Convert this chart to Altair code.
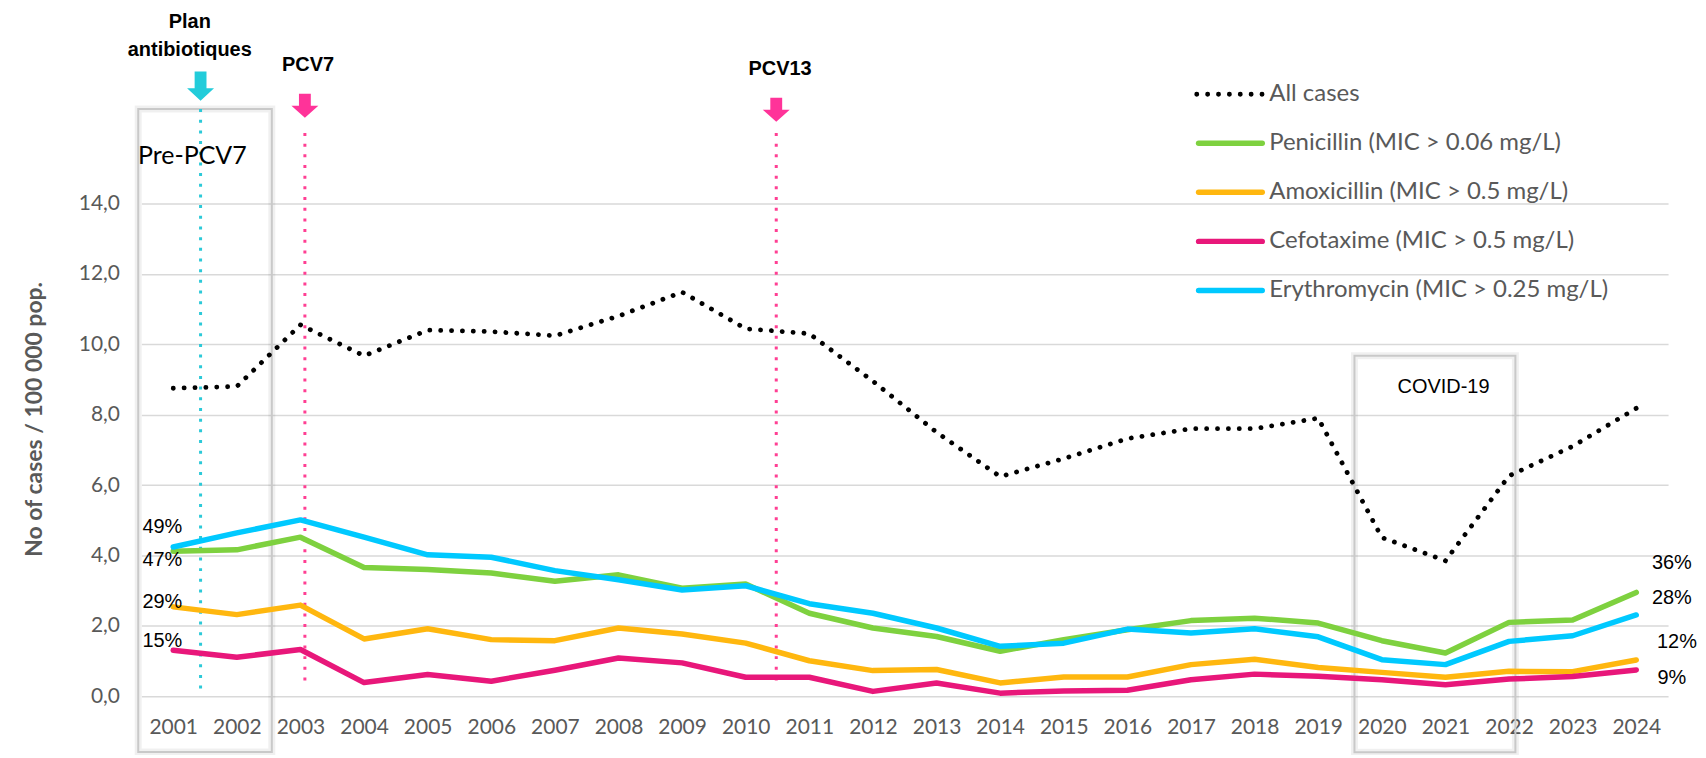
import altair as alt
import pandas as pd

years = list(range(2001, 2025))
all_cases = [8.75, 8.80, 10.55, 9.67, 10.40, 10.36, 10.24, 10.80, 11.48, 10.44, 10.30, 8.95,
             7.50, 6.24, 6.75, 7.32, 7.60, 7.60, 7.90, 4.51, 3.85, 6.26, 7.10, 8.18]
penicillin = [4.12, 4.16, 4.52, 3.66, 3.60, 3.50, 3.27, 3.45, 3.07, 3.19, 2.36, 1.94,
              1.70, 1.28, 1.61, 1.89, 2.15, 2.22, 2.08, 1.58, 1.23, 2.10, 2.17, 2.95]
amoxicillin = [2.54, 2.32, 2.59, 1.63, 1.92, 1.61, 1.58, 1.94, 1.77, 1.51, 1.01, 0.73,
               0.76, 0.38, 0.55, 0.55, 0.90, 1.05, 0.82, 0.68, 0.54, 0.71, 0.70, 1.03]
cefotaxime = [1.31, 1.11, 1.33, 0.39, 0.62, 0.43, 0.74, 1.09, 0.95, 0.54, 0.54, 0.14,
              0.38, 0.09, 0.15, 0.17, 0.47, 0.63, 0.57, 0.47, 0.33, 0.49, 0.56, 0.75]
erythromycin = [4.24, 4.64, 5.01, 4.52, 4.02, 3.95, 3.57, 3.31, 3.02, 3.14, 2.63, 2.36,
                1.94, 1.42, 1.51, 1.91, 1.80, 1.92, 1.69, 1.04, 0.90, 1.56, 1.72, 2.31]

all_label = "All cases"
series_names = ["Penicillin (MIC > 0.06 mg/L)", "Amoxicillin (MIC > 0.5 mg/L)",
                "Cefotaxime (MIC > 0.5 mg/L)", "Erythromycin (MIC > 0.25 mg/L)"]
series_colors = ["#7ED13F", "#FFB70F", "#E8177A", "#00C9FF"]
left_pct = ["49%", "47%", "29%", "15%"]
right_pct = ["36%", "28%", "12%", "9%"]

GRAY = "#595959"
NARROW = "Liberation Sans Narrow, Liberation Sans, Arial Narrow, sans-serif"

df_all = pd.DataFrame({"year": years, "value": all_cases})
rows = []
for name, vals in zip(series_names, [penicillin, amoxicillin, cefotaxime, erythromycin]):
    for yr, v in zip(years, vals):
        rows.append({"year": yr, "value": v, "series": name})
df_res = pd.DataFrame(rows)
one = pd.DataFrame({"k": [0]})  # single row for annotation marks

x_scale = alt.Scale(domain=[2000.5, 2024.5], nice=False, zero=False)
y_scale = alt.Scale(domain=[0, 14], nice=False)

X = alt.X("year:Q", scale=x_scale,
          axis=alt.Axis(values=years, format="d", title=None, grid=False, domain=False,
                        ticks=False, labelFont="Lato", labelFontSize=21, labelColor=GRAY,
                        labelPadding=20, labelFlush=False, labelOverlap=False))
Y = alt.Y("value:Q", scale=y_scale,
          axis=alt.Axis(values=[0, 2, 4, 6, 8, 10, 12, 14],
                        labelExpr="replace(format(datum.value, '.1f'), '.', ',')",
                        title="No of cases / 100 000 pop.", titleFont="Lato", titleFontSize=23,
                        titleFontWeight="bold", titleColor=GRAY, titleX=-107, titleY=216,
                        titleAlign="center", titleBaseline="middle", titleAngle=270,
                        grid=True, gridColor="#D9D9D9", gridWidth=1.5, domain=False, ticks=False,
                        labelPadding=22, labelFont="Lato", labelFontSize=21, labelColor=GRAY))

color_scale = alt.Scale(domain=series_names, range=series_colors)

lines = alt.Chart(df_res).mark_line(strokeWidth=5.5, strokeCap="round", strokeJoin="round").encode(
    x=X, y=Y, color=alt.Color("series:N", scale=color_scale, legend=None),
    detail="series:N")

dotted = alt.Chart(df_all).mark_line(color="black", strokeWidth=4.8, strokeCap="round",
                                     strokeDash=[0.1, 10.8]).encode(x=X, y=Y)


def box(x0, x1, y0, y1):
    shadow = alt.Chart(one).mark_rect(fillOpacity=0, stroke="#000000", strokeOpacity=0.06,
                                      strokeWidth=7).encode(
        x=alt.datum(x0), x2=alt.datum(x1), y=alt.datum(y0), y2=alt.datum(y1))
    edge = alt.Chart(one).mark_rect(fillOpacity=0, stroke="#C9C9C9", strokeWidth=2).encode(
        x=alt.datum(x0), x2=alt.datum(x1), y=alt.datum(y0), y2=alt.datum(y1))
    return shadow + edge


pre_box = box(2000.45, 2002.55, 16.68, -1.58)
covid_box = box(2019.57, 2022.10, 9.67, -1.59)


def vline(xv, y_top, y_bot, color):
    return alt.Chart(one).mark_rule(color=color, strokeWidth=3, strokeDash=[3, 7.7]).encode(
        x=alt.datum(xv), y=alt.datum(y_top), y2=alt.datum(y_bot))


v_plan = vline(2001.43, 16.68, 0.06, "#2CC9D8")
v_pcv7 = vline(2003.07, 16.0, 0.3, "#FF3F93")
v_pcv13 = vline(2010.48, 16.0, 0.3, "#FF3F93")

arrow_long = "M -0.44 -1.09 L 0.44 -1.09 L 0.44 0.15 L 1 0.15 L 0 1.09 L -1 0.15 L -0.44 0.15 Z"
arrow_short = "M -0.44 -0.89 L 0.44 -0.89 L 0.44 0.0 L 1 0.0 L 0 0.89 L -1 0.0 L -0.44 0.0 Z"


def arrow(xv, yv, shape, color):
    return alt.Chart(one).mark_point(shape=shape, size=729, filled=True, fill=color,
                                     strokeWidth=0, opacity=1).encode(
        x=alt.datum(xv), y=alt.datum(yv))


a_plan = arrow(2001.43, 17.33, arrow_long, "#22CCDA")
a_pcv7 = arrow(2003.07, 16.77, arrow_short, "#FF3399")
a_pcv13 = arrow(2010.48, 16.66, arrow_short, "#FF3399")


def label(txt, xv, yv, font, size, weight="normal", color="black", align="center"):
    return alt.Chart(one).mark_text(text=txt, font=font, fontSize=size, fontWeight=weight,
                                    color=color, align=align, baseline="middle").encode(
        x=alt.datum(xv), y=alt.datum(yv))


t_plan1 = label("Plan", 2001.26, 19.16, NARROW, 20, "bold")
t_plan2 = label("antibiotiques", 2001.26, 18.35, NARROW, 20, "bold")
t_pcv7 = label("PCV7", 2003.12, 17.93, NARROW, 20, "bold")
t_pcv13 = label("PCV13", 2010.54, 17.81, NARROW, 20, "bold")
t_pre = label("Pre-PCV7", 2001.30, 15.35, "Lato", 25)
t_covid = label("COVID-19", 2020.97, 8.79, NARROW, 20)

left_y = [4.82, 3.88, 2.67, 1.57]
right_y = [3.80, 2.80, 1.54, 0.53]
right_x = [2024.56, 2024.56, 2024.64, 2024.56]
pct_layers = []
for txt, yv in zip(left_pct, left_y):
    pct_layers.append(label(txt, 2000.83, yv, NARROW, 20))
for txt, xv, yv in zip(right_pct, right_x, right_y):
    pct_layers.append(label(txt, xv, yv, NARROW, 20))

# manual legend
leg_rows = [all_label] + series_names
leg_df = pd.DataFrame({"label": leg_rows, "row": list(range(len(leg_rows)))})
leg_df["ly"] = 17.10 - leg_df["row"] * 1.393
leg_lines_df = leg_df[leg_df["row"] > 0].rename(columns={"label": "series"})
leg_dot_df = leg_df[leg_df["row"] == 0]

leg_lines = alt.Chart(leg_lines_df).mark_rule(strokeWidth=5.5, strokeCap="round").encode(
    x=alt.datum(2017.12), x2=alt.datum(2018.12), y=alt.Y("ly:Q"),
    color=alt.Color("series:N", scale=color_scale, legend=None))
leg_dot = alt.Chart(leg_dot_df).mark_rule(strokeWidth=4.8, strokeCap="round", color="black",
                                          strokeDash=[0.1, 10.8]).encode(
    x=alt.datum(2017.09), x2=alt.datum(2018.14), y=alt.Y("ly:Q"))
leg_text = alt.Chart(leg_df).mark_text(align="left", baseline="middle", font="Lato",
                                       fontSize=24, color=GRAY).encode(
    x=alt.datum(2018.23), y=alt.Y("ly:Q"), text="label:N")

chart = alt.layer(
    pre_box, covid_box, v_plan, v_pcv7, v_pcv13, lines, dotted,
    a_plan, a_pcv7, a_pcv13, t_plan1, t_plan2, t_pcv7, t_pcv13, t_pre, t_covid,
    *pct_layers, leg_lines, leg_dot, leg_text
).properties(
    width=1530, height=494,
    autosize=alt.AutoSizeParams(type="none"),
    padding={"left": 133.7, "top": 195, "right": 30, "bottom": 58},
).configure_view(stroke=None)

chart.save("out.html", embed_options={"renderer": "svg", "actions": False})
